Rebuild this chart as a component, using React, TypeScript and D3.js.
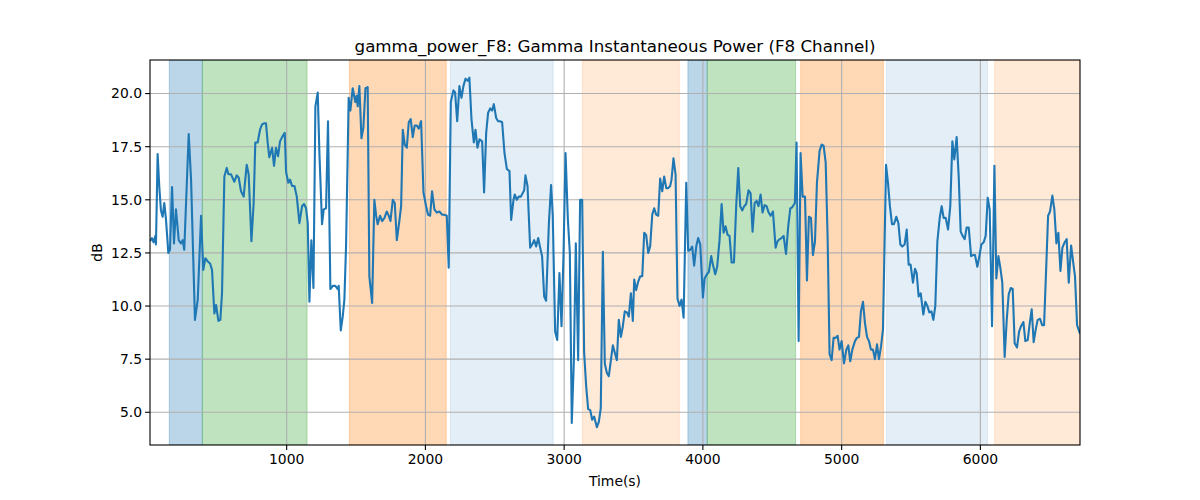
import * as d3 from 'd3';
import { useEffect } from 'react';

// sample times (s) and gamma power (dB)
const times = [
    15, 29, 41, 53, 58, 70, 82, 94, 106, 118, 130, 147, 159, 174, 188, 202, 222, 238, 250, 262,
    294, 311, 339, 359, 383, 399, 414, 431, 448, 462, 479, 491, 508, 522, 534, 551, 568, 580, 599, 623,
    640, 654, 671, 690, 712, 726, 746, 762, 774, 791, 808, 823, 839, 851, 863, 875, 895, 909, 923, 938,
    952, 967, 986, 996, 1012, 1024, 1039, 1056, 1073, 1092, 1111, 1125, 1140, 1152, 1164, 1178, 1193, 1207, 1224, 1236,
    1255, 1267, 1284, 1298, 1315, 1332, 1351, 1368, 1375, 1390, 1404, 1416, 1428, 1447, 1459, 1476, 1495, 1505, 1512, 1524,
    1539, 1553, 1568, 1584, 1596, 1616, 1632, 1645, 1656, 1673, 1688, 1705, 1721, 1736, 1748, 1765, 1779, 1794, 1813, 1825,
    1837, 1851, 1866, 1880, 1894, 1909, 1923, 1938, 1952, 1969, 1986, 2005, 2019, 2034, 2048, 2065, 2082, 2101, 2120, 2137,
    2154, 2168, 2183, 2202, 2214, 2229, 2245, 2260, 2274, 2289, 2305, 2317, 2332, 2349, 2361, 2375, 2390, 2409, 2423, 2438,
    2452, 2467, 2481, 2493, 2510, 2524, 2538, 2553, 2570, 2587, 2606, 2618, 2635, 2644, 2659, 2673, 2688, 2712, 2721, 2736,
    2755, 2769, 2784, 2798, 2813, 2827, 2841, 2856, 2870, 2890, 2906, 2918, 2935, 2950, 2966, 2981, 2995, 3010, 3027, 3041,
    3055, 3070, 3084, 3101, 3115, 3130, 3144, 3159, 3173, 3188, 3202, 3216, 3236, 3250, 3264, 3279, 3293, 3308, 3322, 3337,
    3351, 3365, 3380, 3394, 3409, 3423, 3437, 3452, 3466, 3481, 3495, 3505, 3519, 3534, 3548, 3563, 3577, 3591, 3606, 3620,
    3635, 3649, 3663, 3678, 3692, 3707, 3721, 3736, 3750, 3764, 3774, 3788, 3803, 3817, 3832, 3846, 3861, 3880, 3894, 3909,
    3923, 3937, 3952, 3966, 3981, 4000, 4012, 4029, 4043, 4060, 4072, 4089, 4103, 4120, 4135, 4149, 4163, 4178, 4192, 4207,
    4224, 4240, 4255, 4269, 4284, 4298, 4312, 4329, 4344, 4358, 4373, 4387, 4401, 4416, 4430, 4445, 4459, 4474, 4488, 4505,
    4524, 4538, 4553, 4567, 4582, 4599, 4615, 4630, 4644, 4663, 4675, 4690, 4704, 4719, 4736, 4750, 4764, 4779, 4793, 4808,
    4822, 4841, 4856, 4870, 4885, 4899, 4913, 4928, 4942, 4957, 4971, 4985, 5000, 5017, 5034, 5048, 5062, 5077, 5096, 5110,
    5125, 5139, 5154, 5168, 5183, 5197, 5211, 5226, 5240, 5255, 5269, 5284, 5298, 5320, 5334, 5348, 5363, 5377, 5394, 5409,
    5423, 5437, 5454, 5469, 5483, 5497, 5514, 5529, 5541, 5555, 5570, 5589, 5603, 5618, 5632, 5647, 5661, 5675, 5690, 5707,
    5721, 5735, 5750, 5767, 5783, 5798, 5812, 5829, 5844, 5858, 5872, 5887, 5901, 5916, 5933, 5947, 5961, 5978, 5993, 6007,
    6024, 6038, 6053, 6067, 6084, 6101, 6115, 6130, 6144, 6158, 6175, 6190, 6204, 6219, 6233, 6247, 6264, 6279, 6293, 6310,
    6324, 6341, 6356, 6370, 6384, 6399, 6413, 6430, 6445, 6459, 6473, 6488, 6502, 6519, 6533, 6548, 6562, 6577, 6591, 6608,
    6622, 6637, 6654, 6668, 6682, 6697, 6718,
];

const powerDb = [
    13.05, 13.2, 13.0, 13.3, 12.9, 17.15, 15.6, 14.5, 14.2, 14.85, 14.1, 12.5, 12.65, 15.6, 12.95, 14.55, 13.1, 12.95, 13.1, 12.65,
    18.1, 15.95, 9.35, 10.3, 14.25, 11.7, 12.25, 12.1, 12.0, 11.7, 9.65, 10.05, 9.3, 9.35, 10.6, 16.1, 16.5, 16.2, 16.2, 15.85,
    16.15, 16.05, 15.4, 15.15, 16.65, 16.2, 13.05, 14.85, 17.7, 17.7, 18.3, 18.55, 18.6, 18.6, 17.7, 17.0, 17.45, 16.6, 17.45, 17.05,
    17.75, 17.95, 18.15, 16.3, 15.8, 15.95, 15.65, 15.65, 15.15, 13.9, 14.7, 14.8, 14.6, 13.9, 10.2, 13.1, 10.85, 19.4, 20.05, 17.2,
    13.85, 14.55, 14.6, 18.7, 10.8, 10.95, 10.95, 10.8, 10.95, 8.85, 9.5, 10.3, 12.8, 19.8, 19.2, 20.25, 19.6, 19.9, 19.4, 20.35,
    17.9, 18.4, 20.25, 20.3, 11.4, 10.15, 15.0, 14.25, 13.85, 14.25, 14.0, 14.15, 14.45, 14.25, 14.0, 15.0, 14.85, 13.1, 14.05, 14.7,
    18.3, 17.6, 17.45, 18.65, 18.8, 17.95, 18.5, 18.5, 18.35, 18.7, 15.35, 14.7, 14.3, 14.25, 15.4, 14.55, 14.4, 14.45, 14.3, 14.3,
    14.25, 11.8, 19.6, 20.15, 20.05, 18.7, 20.35, 19.8, 20.35, 20.7, 20.6, 20.75, 18.8, 17.7, 18.3, 17.45, 17.85, 17.75, 15.35, 18.15,
    19.1, 19.3, 19.2, 19.5, 18.85, 18.7, 18.7, 18.65, 17.2, 16.45, 16.35, 14.05, 15.0, 15.25, 15.0, 15.15, 15.15, 15.45, 16.15, 15.65,
    12.75, 12.9, 13.1, 12.8, 13.2, 12.75, 12.35, 10.45, 10.25, 13.9, 15.7, 14.25, 8.8, 8.4, 11.55, 9.05, 12.35, 17.2, 14.05, 12.5,
    4.5, 7.45, 12.95, 7.45, 15.0, 15.0, 7.8, 6.2, 5.15, 5.1, 4.65, 4.8, 4.3, 4.55, 5.2, 12.55, 7.3, 6.85, 6.7, 7.45,
    8.15, 7.8, 7.45, 9.35, 8.55, 9.05, 9.75, 9.7, 9.5, 10.6, 9.3, 11.25, 10.75, 11.15, 11.4, 11.4, 13.45, 13.35, 12.5, 12.8,
    14.3, 14.6, 14.3, 14.25, 16.0, 15.4, 16.1, 15.55, 15.55, 15.65, 15.95, 16.95, 16.2, 10.35, 10.0, 10.3, 9.45, 15.8, 12.6, 12.65,
    12.8, 11.9, 12.8, 13.2, 12.9, 10.4, 11.3, 11.5, 11.6, 12.35, 11.95, 11.5, 11.85, 13.1, 14.8, 13.45, 13.75, 13.35, 13.3, 12.05,
    12.05, 14.7, 16.5, 14.7, 14.5, 14.7, 14.8, 15.45, 15.3, 13.5, 14.85, 14.95, 14.7, 15.25, 14.4, 14.75, 14.7, 14.4, 14.25, 14.45,
    12.75, 13.05, 13.15, 13.2, 13.3, 12.45, 13.75, 14.6, 14.65, 14.85, 17.7, 8.35, 17.2, 15.15, 15.15, 11.2, 14.2, 14.15, 12.4, 13.05,
    15.8, 17.3, 17.6, 17.55, 16.75, 13.2, 7.75, 7.45, 8.5, 8.5, 8.6, 7.95, 8.35, 7.3, 7.95, 8.15, 7.4, 7.95, 8.35, 8.5,
    8.55, 9.75, 10.2, 9.2, 8.55, 8.35, 7.95, 7.95, 7.5, 8.2, 7.5, 8.1, 8.9, 16.65, 15.8, 14.7, 13.85, 13.85, 14.2, 13.9,
    12.9, 12.8, 12.9, 13.6, 11.95, 11.95, 11.1, 11.75, 11.55, 10.45, 10.6, 9.6, 10.2, 10.0, 9.7, 9.75, 9.35, 10.0, 13.05, 14.15,
    14.7, 14.15, 14.15, 13.6, 14.7, 17.75, 16.9, 17.95, 16.05, 13.5, 13.3, 13.15, 13.7, 13.7, 12.35, 12.4, 12.4, 11.85, 12.35, 12.9,
    13.0, 13.3, 15.1, 14.55, 9.05, 16.6, 11.3, 12.35, 11.8, 11.1, 7.6, 9.35, 10.55, 10.85, 10.8, 8.25, 8.05, 8.8, 9.05, 9.25,
    8.35, 8.4, 9.2, 9.85, 8.3, 8.9, 9.35, 9.4, 9.1, 9.1, 11.55, 14.25, 14.45, 15.2, 14.55, 12.95, 13.45, 11.65, 12.75, 13.0,
    13.15, 11.1, 12.85, 12.1, 11.4, 9.1, 8.7,
];

// shaded state intervals
const spanStart = [154, 392, 1452, 2181, 3132, 3892, 4031, 4705, 5324, 6103];
const spanEnd = [392, 1147, 2150, 2921, 3830, 4031, 4668, 5301, 6051, 6718];
const spanColor = ['#1f77b4', '#2ca02c', '#ff7f0e', '#1f77b4', '#ff7f0e', '#1f77b4', '#2ca02c', '#ff7f0e', '#1f77b4', '#ff7f0e'];
const spanAlpha = [0.3, 0.3, 0.3, 0.12, 0.16, 0.3, 0.3, 0.3, 0.12, 0.16];

const xTicks = [1000, 2000, 3000, 4000, 5000, 6000];
const yTicks = [5, 7.5, 10, 12.5, 15, 17.5, 20];

const W = 1200;
const H = 500;
const M = { top: 60, right: 120, bottom: 55, left: 150 };
const FONT = 'DejaVu Sans, sans-serif';

export default function App() {
    useEffect(() => {
        document.body.style.margin = '0';
    }, []);

    const x = d3
        .scaleLinear()
        .domain(d3.extent(times) as [number, number])
        .range([M.left, W - M.right]);
    const y = d3.scaleLinear().domain([3.46, 21.58]).range([H - M.bottom, M.top]);

    const pts = times.map((t, i) => [t, powerDb[i]] as [number, number]);
    const line = d3
        .line<[number, number]>()
        .x((d) => x(d[0]))
        .y((d) => y(d[1]));

    const [x0, x1] = x.range();
    const [yb, yt] = y.range();

    return (
        <svg width={W} height={H} viewBox={`0 0 ${W} ${H}`} style={{ display: 'block', background: '#fff' }}>
            <defs>
                <clipPath id="plot">
                    <rect x={x0} y={yt} width={x1 - x0} height={yb - yt} />
                </clipPath>
            </defs>
            <g clipPath="url(#plot)">
                {spanStart.map((s, i) => (
                    <rect
                        key={i}
                        x={x(s)}
                        y={yt}
                        width={x(spanEnd[i]) - x(s)}
                        height={yb - yt}
                        fill={spanColor[i]}
                        fillOpacity={spanAlpha[i]}
                        stroke={spanColor[i]}
                        strokeOpacity={spanAlpha[i]}
                        strokeWidth={1}
                    />
                ))}
                {xTicks.map((t) => (
                    <line key={t} x1={x(t)} x2={x(t)} y1={yt} y2={yb} stroke="#b0b0b0" strokeWidth={1.1} />
                ))}
                {yTicks.map((v) => (
                    <line key={v} x1={x0} x2={x1} y1={y(v)} y2={y(v)} stroke="#b0b0b0" strokeWidth={1.1} />
                ))}
                <path d={line(pts) ?? ''} fill="none" stroke="#1f77b4" strokeWidth={2.1} strokeLinejoin="round" />
            </g>
            <rect x={x0} y={yt} width={x1 - x0} height={yb - yt} fill="none" stroke="#000" strokeWidth={1.1} />
            <g fontFamily={FONT} fontSize={13.9} fill="#000">
                {xTicks.map((t) => (
                    <g key={t} transform={`translate(${x(t)},${yb})`}>
                        <line y2={4.9} stroke="#000" strokeWidth={1.1} />
                        <text y={19} textAnchor="middle">
                            {t}
                        </text>
                    </g>
                ))}
                {yTicks.map((v) => (
                    <g key={v} transform={`translate(${x0},${y(v)})`}>
                        <line x2={-4.9} stroke="#000" strokeWidth={1.1} />
                        <text x={-8} dy="0.35em" textAnchor="end">
                            {d3.format('.1f')(v)}
                        </text>
                    </g>
                ))}
                <text x={(x0 + x1) / 2} y={486} textAnchor="middle">
                    Time(s)
                </text>
                <text transform={`translate(102,${(yt + yb) / 2}) rotate(-90)`} textAnchor="middle">
                    dB
                </text>
            </g>
            <text x={(x0 + x1) / 2} y={52} textAnchor="middle" fontFamily={FONT} fontSize={16.7}>
                gamma_power_F8: Gamma Instantaneous Power (F8 Channel)
            </text>
        </svg>
    );
}
